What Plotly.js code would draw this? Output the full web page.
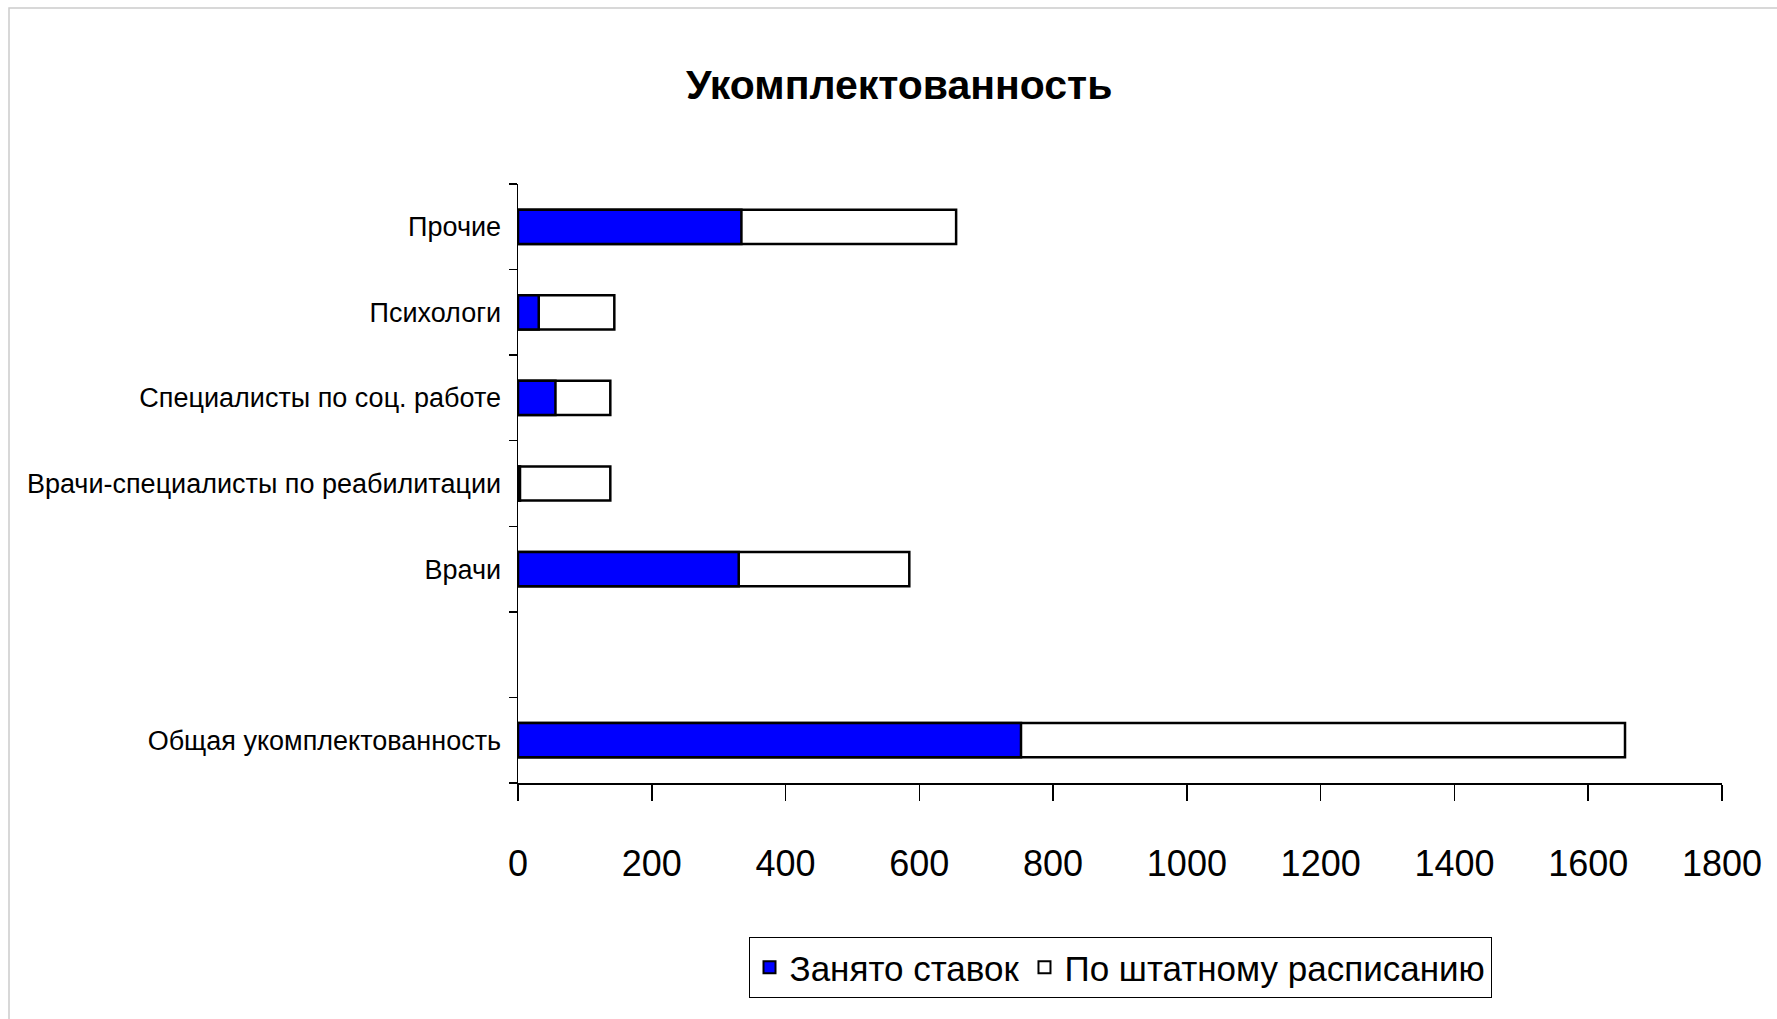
<!DOCTYPE html>
<html>
<head>
<meta charset="utf-8">
<script src="https://cdn.plot.ly/plotly-3.0.1.min.js"></script>
<style>
html,body{margin:0;padding:0;background:#fff;}
#chart{width:1777px;height:1019px;}
</style>
</head>
<body>
<div id="chart"></div>
<script>
const categories = ['Общая укомплектованность', 'Врачи', 'Врачи-специалисты по реабилитации', 'Специалисты по соц. работе', 'Психологи', 'Прочие'];
const categoryOrder = ['Общая укомплектованность', ' ', 'Врачи', 'Врачи-специалисты по реабилитации', 'Специалисты по соц. работе', 'Психологи', 'Прочие'];
const occupied = [752, 330, 3, 56, 31, 334];
const staffing = [1655, 585, 138, 138, 144, 655];
const xTicks = [0, 200, 400, 600, 800, 1000, 1200, 1400, 1600, 1800];
const seriesNames = ['Занято ставок', 'По штатному расписанию'];

const FONT = '"Liberation Sans", Arial, sans-serif';

const traces = [
  {
    type: 'bar', orientation: 'h', name: seriesNames[1],
    y: categories, x: staffing, legendrank: 2,
    marker: {color: '#ffffff', line: {color: '#000000', width: 2.5}},
    width: 0.4, hoverinfo: 'x+y'
  },
  {
    type: 'bar', orientation: 'h', name: seriesNames[0],
    y: categories, x: occupied, legendrank: 1,
    marker: {color: '#0000ff', line: {color: '#000000', width: 2.5}},
    width: 0.4, hoverinfo: 'x+y'
  }
];

const layout = {
  width: 1777, height: 1019,
  paper_bgcolor: '#ffffff', plot_bgcolor: '#ffffff',
  font: {family: FONT, color: '#000000'},
  margin: {l: 518, r: 55, t: 184, b: 236, pad: 0},
  barmode: 'overlay',
  showlegend: true,
  title: {
    text: '<b>Укомплектованность</b>',
    font: {family: FONT, size: 41, color: '#000000'},
    x: 0.506, xref: 'container', xanchor: 'center',
    y: 0.917, yref: 'container', yanchor: 'middle'
  },
  xaxis: {
    range: [0, 1800], tickvals: xTicks, ticktext: xTicks.map(String),
    showgrid: false, zeroline: false,
    showline: true, linecolor: '#000000', linewidth: 1.5,
    ticks: 'outside', ticklen: 16, tickcolor: '#000000', tickwidth: 1.5,
    ticklabelstandoff: 32,
    tickfont: {family: FONT, size: 36, color: '#000000'},
    fixedrange: true
  },
  yaxis: {
    type: 'category', categoryorder: 'array', categoryarray: categoryOrder,
    range: [-0.5, 6.5],
    showgrid: false, zeroline: false,
    showline: true, linecolor: '#000000', linewidth: 1.5,
    ticks: 'outside', tickson: 'boundaries', ticklen: 8, tickcolor: '#000000', tickwidth: 1.5,
    ticklabelstandoff: 10,
    tickfont: {family: FONT, size: 27, color: '#000000'},
    fixedrange: true
  },
  legend: {
    orientation: 'h', x: 0.5, xanchor: 'center', y: -0.257, yanchor: 'top',
    bordercolor: '#000000', borderwidth: 1, bgcolor: '#ffffff',
    font: {family: FONT, size: 35, color: '#000000'},
    traceorder: 'normal', itemsizing: 'constant'
  },
  shapes: [{
    type: 'rect', xref: 'paper', yref: 'paper',
    x0: (9 - 518) / 1204, x1: (1800 - 518) / 1204,
    y0: -(1040 - 783) / 599, y1: 1 + (184 - 8) / 599,
    line: {color: '#cccccc', width: 1.5}, layer: 'below'
  }]
};

Plotly.newPlot('chart', traces, layout, {displayModeBar: false, staticPlot: true});
</script>
</body>
</html>
